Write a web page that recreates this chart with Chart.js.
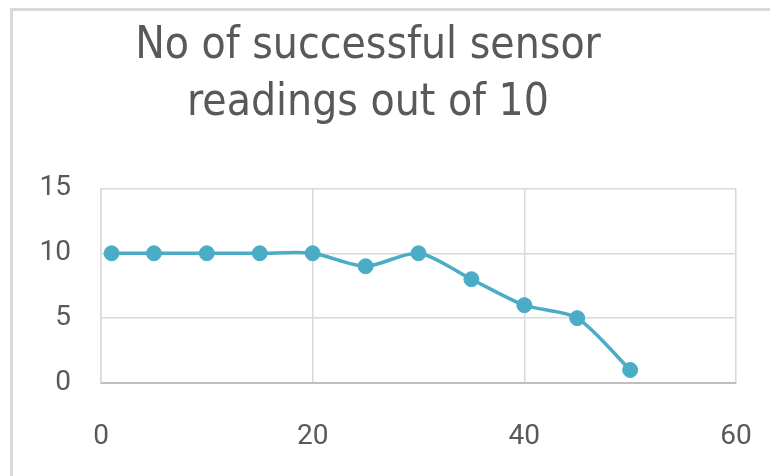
<!DOCTYPE html>
<html>
<head>
<meta charset="utf-8">
<script src="https://cdn.jsdelivr.net/npm/chart.js@4/dist/chart.umd.min.js"></script>
<style>
  html, body { margin: 0; padding: 0; background: #fff; }
  #wrap { position: relative; width: 770px; height: 476px; overflow: hidden; }
  #frame { position: absolute; left: 10px; top: 8px; width: 800px; height: 520px;
           border: 3px solid #d9d9d9; box-sizing: border-box; }
  canvas { position: absolute; left: 0; top: 0; }
</style>
</head>
<body>
<div id="wrap">
  <div id="frame"></div>
  <canvas id="myChart" width="770" height="476"></canvas>
</div>
<script>
// distance (x) vs successful readings (y)
const distances = [1, 5, 10, 15, 20, 25, 30, 35, 40, 45, 50];
const readings  = [10, 10, 10, 10, 10, 9, 10, 8, 6, 5, 1];
const titleLines = ['No of successful sensor', 'readings out of 10'];

const points = distances.map((d, i) => ({x: d, y: readings[i]}));

const grey = '#595959';

var ctx = document.getElementById('myChart').getContext('2d');
var chart = new Chart(ctx, {
  type: 'line',
  data: {
    datasets: [{
      data: points,
      borderColor: '#4bacc6',
      backgroundColor: '#4bacc6',
      borderWidth: 3.5,
      pointRadius: 7.5,
      pointBorderWidth: 1,
      tension: 0.28,
      fill: false
    }]
  },
  options: {
    responsive: false,
    animation: false,
    layout: {padding: {left: 0, right: 34, top: 0, bottom: 0}},
    plugins: {
      legend: {display: false},
      tooltip: {enabled: false},
      title: {
        display: true,
        text: titleLines,
        color: grey,
        font: {family: '"Liberation Sans Narrow", "DejaVu Sans Condensed", sans-serif', size: 44, weight: 'normal', lineHeight: 1.3},
        padding: {top: 18, bottom: 56}
      }
    },
    scales: {
      x: {
        type: 'linear',
        min: 0, max: 60,
        ticks: {stepSize: 20, color: grey, padding: 37, font: {family: 'Roboto', size: 28}},
        grid: {color: '#d9d9d9', lineWidth: 1.5, drawTicks: false},
        border: {color: '#bfbfbf', width: 2},
        afterFit: (scale) => {
          scale.height = 93;
          // let the "60" label hang past the plot edge like the original
          scale.paddingLeft = 0;
          scale.paddingRight = 0;
        }
      },
      y: {
        min: 0, max: 15,
        ticks: {stepSize: 5, color: grey, padding: 30, font: {family: 'Roboto', size: 28}},
        grid: {color: '#d9d9d9', lineWidth: 1.5, drawTicks: false},
        border: {color: '#d9d9d9', width: 1.5},
        afterFit: (scale) => { scale.width = 101; }
      }
    }
  }
});
</script>
</body>
</html>
